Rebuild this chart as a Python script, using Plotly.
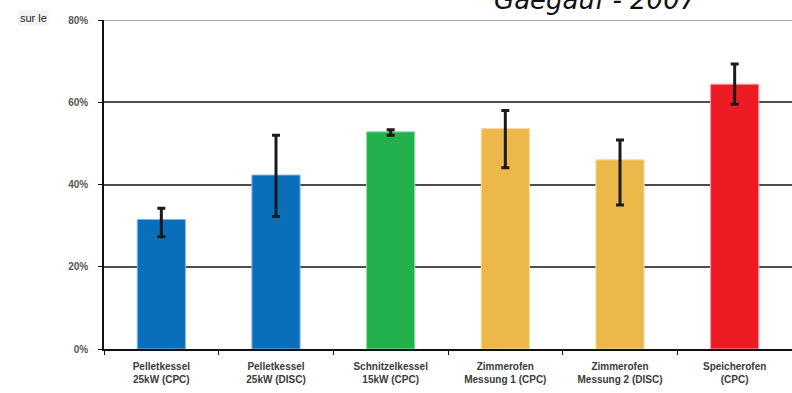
import plotly.graph_objects as go

# Heating appliance categories (two-line labels)
categories = [
    "Pelletkessel<br>25kW (CPC)",
    "Pelletkessel<br>25kW (DISC)",
    "Schnitzelkessel<br>15kW (CPC)",
    "Zimmerofen<br>Messung 1 (CPC)",
    "Zimmerofen<br>Messung 2 (DISC)",
    "Speicherofen<br>(CPC)",
]
# Mean share and error range (upper / lower deviation)
values = [0.315, 0.423, 0.528, 0.536, 0.460, 0.644]
err_plus = [0.027, 0.097, 0.005, 0.044, 0.048, 0.049]
err_minus = [0.042, 0.101, 0.008, 0.095, 0.110, 0.049]
bar_colors = ["#0a6fbb", "#0a6fbb", "#22b14c", "#ecb84a", "#ecb84a", "#ed1c24"]
edge_colors = ["#7fb6e0", "#7fb6e0", "#8fdca4", "#f6dca0", "#f6dca0", "#f7a0a4"]
y_ticks = [0, 0.2, 0.4, 0.6, 0.8]
y_tick_labels = ["0%", "20%", "40%", "60%", "80%"]

fig = go.Figure()
fig.add_trace(go.Bar(
    x=categories,
    y=values,
    width=0.42,
    marker=dict(color=bar_colors, line=dict(color=edge_colors, width=1)),
    error_y=dict(
        type="data", symmetric=False,
        array=err_plus, arrayminus=err_minus,
        color="#1a1a1a", thickness=3, width=4,
    ),
    hoverinfo="skip",
))

# lighter top gridline at 80%
fig.add_shape(type="line", xref="paper", yref="y", x0=0, x1=1, y0=0.8, y1=0.8,
              line=dict(color="#a9acb0", width=2), layer="above")

fig.add_annotation(
    text="<i>Gaegauf - 2007</i>", xref="paper", yref="paper",
    x=0.715, y=1.008, xanchor="center", yanchor="bottom", showarrow=False,
    font=dict(family="Comic Sans MS, DejaVu Sans", size=26, color="#111111"),
)
fig.add_annotation(
    text="sur le", xref="paper", yref="paper",
    x=-0.102, y=1.006, xanchor="center", yanchor="middle", showarrow=False,
    font=dict(family="Liberation Sans, Arial", size=11, color="#222222"),
    bgcolor="#f3f3f3",
)

fig.update_layout(
    width=792, height=393,
    margin=dict(l=104, r=0, t=20, b=44),
    paper_bgcolor="white", plot_bgcolor="white",
    showlegend=False,
    font=dict(family="Liberation Sans, Arial", size=10, color="#333333"),
)
fig.update_xaxes(
    type="category", range=[-0.5, 5.5],
    showline=True, linecolor="#111111", linewidth=1.5,
    ticks="outside", tickson="boundaries", ticklen=4, tickcolor="#111111",
    tickfont=dict(family="Liberation Sans, Arial", size=10, color="#3a3a3a", weight="bold"),
    ticklabelstandoff=7,
    showgrid=False,
)
fig.update_yaxes(
    range=[0, 0.8], tickvals=y_ticks, ticktext=y_tick_labels,
    showline=True, linecolor="#111111", linewidth=1.5,
    ticks="outside", ticklen=4, tickcolor="#111111",
    tickfont=dict(family="Liberation Sans, Arial", size=10, color="#555555", weight="bold"),
    ticklabelstandoff=8,
    showgrid=True, gridcolor="#4d4d4d", gridwidth=1.5,
    zeroline=False,
)

fig.write_html("out.html")
